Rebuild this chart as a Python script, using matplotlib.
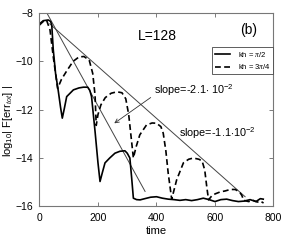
import matplotlib
matplotlib.use("Agg")
import matplotlib.pyplot as plt

plt.rcParams['font.family'] = ['Liberation Sans', 'DejaVu Sans']
plt.rcParams['mathtext.fontset'] = 'custom'
plt.rcParams['mathtext.rm'] = 'Liberation Sans'
plt.rcParams['mathtext.it'] = 'Liberation Serif:italic'

# kh = pi/2 (solid)
sol_t = [0, 13, 30, 38, 42, 47, 55, 64, 72, 78, 85, 93, 116, 135, 150, 165, 172, 178,
         190, 200, 207, 215, 224, 240, 258, 275, 292, 300, 309, 315, 321, 332, 344,
         360, 380, 400, 420, 440, 460, 480, 500, 520, 540, 560, 580, 600, 620, 640,
         660, 680, 700, 720, 740, 755, 765]
sol_y = [-8.45, -8.32, -8.29, -8.35, -8.5, -9.5, -10.5, -11.2, -11.9, -12.35, -11.95,
         -11.46, -11.18, -11.1, -11.07, -11.07, -11.2, -11.46, -12.9, -14.2, -14.97,
         -14.6, -14.2, -14.0, -13.8, -13.72, -13.7, -13.8, -14.0, -14.8, -15.66,
         -15.72, -15.73, -15.68, -15.62, -15.6, -15.66, -15.7, -15.72, -15.75, -15.72,
         -15.76, -15.72, -15.66, -15.72, -15.8, -15.72, -15.7, -15.76, -15.8, -15.78,
         -15.72, -15.8, -15.68, -15.7]

# kh = 3pi/4 (dashed)
dash_t = [0, 12, 24, 36, 47, 55, 62, 75, 93, 115, 135, 152, 170, 182, 190, 194, 200,
          210, 225, 245, 265, 282, 295, 305, 313, 321, 330, 343, 366, 385, 400, 415,
          423, 432, 440, 452, 469, 492, 510, 526, 545, 556, 565, 572, 578, 590, 601,
          618, 635, 652, 669, 684, 692, 698, 715, 730, 745, 755, 766]
dash_y = [-8.5, -8.36, -8.29, -8.7, -9.8, -10.5, -11.12, -10.75, -10.4, -10.0, -9.82,
          -9.8, -9.95, -10.5, -11.4, -12.65, -12.2, -11.8, -11.5, -11.32, -11.26,
          -11.3, -11.55, -12.2, -13.1, -14.0, -13.55, -13.04, -12.63, -12.55, -12.56,
          -12.7, -12.97, -13.7, -14.62, -15.7, -14.9, -14.2, -14.05, -14.0, -14.05,
          -14.12, -14.5, -15.2, -15.73, -15.55, -15.48, -15.4, -15.36, -15.3, -15.3,
          -15.4, -15.55, -15.75, -15.8, -15.75, -15.82, -15.78, -15.86]

# fitted slopes
fit1_t = [27, 361]
fit1_y = [-8.04, -15.38]
fit2_t = [35, 703]
fit2_y = [-8.45, -15.6]

fig = plt.figure(figsize=(2.84, 2.4), dpi=100)
ax = fig.add_axes([0.139, 0.14, 0.824, 0.806])

ax.plot(fit1_t, fit1_y, color='#444444', lw=0.7)
ax.plot(fit2_t, fit2_y, color='#444444', lw=0.7)
ax.plot(sol_t, sol_y, color='black', lw=1.2, label=r'kh = $\pi$/2')
ax.plot(dash_t, dash_y, color='black', lw=1.2, dashes=(3.5, 2),
        label=r'kh = 3$\pi$/4')

ax.set_xlim(0, 800)
ax.set_ylim(-16, -8)
ax.set_xticks([0, 200, 400, 600, 800])
ax.set_yticks([-8, -10, -12, -14, -16])
ax.tick_params(direction='in', length=3, width=0.6, color='#666666',
               top=True, right=True, labelsize=7.5, pad=4.5)
for s in ax.spines.values():
    s.set_color('#777777')
    s.set_linewidth(0.8)

ax.set_xlabel('time', fontsize=8)
ax.xaxis.set_label_coords(0.5, -0.10)
ax.set_ylabel(r'log$_{10}$| F[err$_{tot}$] |', fontsize=8)
ax.yaxis.set_label_coords(-0.105, 0.44)

ax.text(338, -9.12, 'L=128', fontsize=10, va='baseline')
ax.text(686, -8.85, '(b)', fontsize=10, va='baseline')
ax.text(390, -11.35, r'slope=-2.1$\cdot$ 10$^{-2}$', fontsize=7.8, va='baseline')
ax.text(476, -13.14, r'slope=-1.1$\cdot$10$^{-2}$', fontsize=7.8, va='baseline')
ax.annotate('', xy=(248, -12.63), xytext=(388, -11.43),
            arrowprops=dict(arrowstyle='->', color='#333333', lw=0.6,
                            mutation_scale=7))

leg = ax.legend(loc='upper right', bbox_to_anchor=(1.0, 0.824), borderaxespad=0,
                fontsize=5.5, handlelength=2.0, handletextpad=1.0,
                labelspacing=0.5, borderpad=0.35, fancybox=False,
                framealpha=1, edgecolor='#444444')
leg.get_frame().set_linewidth(0.6)

fig.savefig('out.png', dpi=100)
